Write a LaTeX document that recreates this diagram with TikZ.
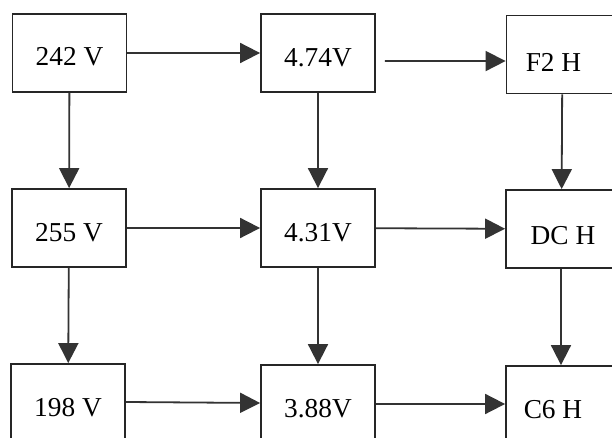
\documentclass[tikz,border=0pt]{standalone}
\usepackage{fontspec}
\setmainfont{Liberation Serif}
\usetikzlibrary{arrows.meta}

\tikzset{
  blk/.style={draw=black!85, line width=1.35pt, minimum width=85.5pt,
    minimum height=58.5pt, inner sep=0pt, text height=20.4pt, text depth=0pt,
    font=\fontsize{20.5}{24}\selectfont},
  arr/.style={draw=black!85, line width=1.35pt,
    -{Triangle[length=15pt,width=15pt]}, color=black!80}
}

\begin{document}
\begin{tikzpicture}[x=0.75pt,y=-0.75pt]
        \clip (0,0) rectangle (612,438);
        \fill[white] (0,0) rectangle (612,438);

        % first row
        \node[blk, text height=19.2pt] (v1) at (69.5,53) {242 V};
        \node[blk] (m1) at (318,53) {4.74V};
        \node[blk, text height=25.6pt] (h1) at (563.5,54.5) {\hspace*{-15pt}F2 H};
        % second row
        \node[blk] (v2) at (69,228) {255 V};
        \node[blk] (m2) at (318,228) {4.31V};
        \node[blk, text height=23.4pt] (h2) at (563,229) {DC H};
        % third row
        \node[blk] (v3) at (68,403) {198 V};
        \node[blk] (m3) at (318,404) {3.88V};
        \node[blk] (h3) at (563,405) {\hspace*{-15pt}C6 H};

        \draw[arr] (v1) -- (m1);
        \draw[arr] ([xshift=6.75pt,yshift=-6pt]m1.east) -- ([yshift=-4.9pt]h1.west);
        \draw[arr] (v2) -- (m2);
        \draw[arr] (m2) -- (h2);
        \draw[arr] ([yshift=0.75pt]v3.east) -- ([yshift=0.75pt]m3.west);
        \draw[arr] (m3.east) -- ([yshift=0.75pt]h3.west);

        \draw[arr] (v1) -- (v2);
        \draw[arr] (v2) -- (v3);
        \draw[arr] (m1) -- (m2);
        \draw[arr] (m2) -- (m3);
        \draw[arr] ([xshift=-1pt]h1.south) -- ([xshift=-1pt]h2.north);
        \draw[arr] ([xshift=-1.5pt]h2.south) -- ([xshift=-1.5pt]h3.north);
    \end{tikzpicture}
\end{document}
